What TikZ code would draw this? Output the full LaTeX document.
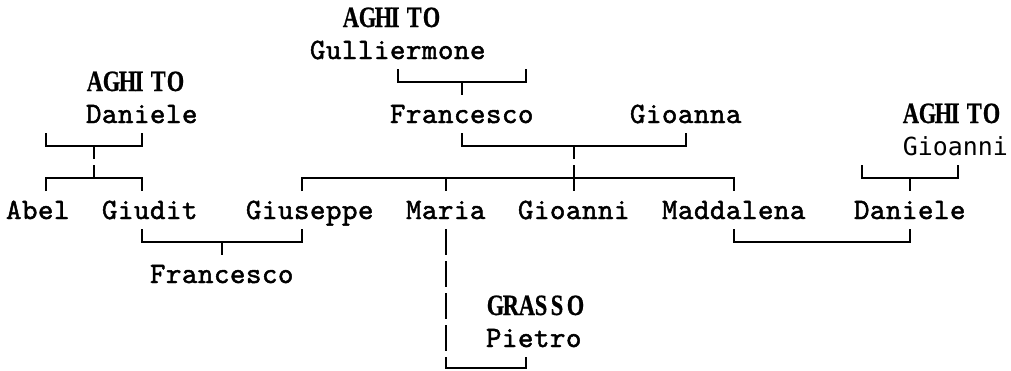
\documentclass[tikz,border=0pt]{standalone}
\usepackage{fontspec}
\newfontfamily\namefont{lmmono10-regular}[Extension=.otf,FakeBold=1.6]
\newfontfamily\surfont[FakeStretch=0.76,FakeBold=0.6]{Liberation Serif}
\newfontfamily\treesans{DejaVu Sans Mono}
\def\cells#1{\cellsloop#1\relax}
\def\cellsloop#1{\ifx\relax#1\else\makebox[16pt][l]{#1}\expandafter\cellsloop\fi}
\begin{document}
\begin{tikzpicture}[x=1pt,y=-1pt]
\useasboundingbox (0,0) rectangle (1011,370);
\begin{scope}[shift={(14,27)},x=16pt,y=-32pt,
  lbl/.style={anchor=base west,inner sep=0pt,outer sep=0pt,font=\namefont\fontsize{29.5}{32}\selectfont},
  sur/.style={anchor=base west,inner sep=0pt,outer sep=0pt,font=\surfont\bfseries\fontsize{29.5}{32}\selectfont},
  san/.style={anchor=base west,inner sep=0pt,outer sep=0pt,font=\treesans\fontsize{24.9}{32}\selectfont},
  ln/.style={line width=1.4pt,line cap=butt}]
% ---- texts ----
\node[sur] (surG) at (20.55,0) {\cells{AGHITO}};
\node[lbl] (gull) at (18.5,1) {\cells{Gulliermone}};
\node[sur] (surD) at (4.55,2) {\cells{AGHITO}};
\node[lbl] (dan1) at (4.5,3) {\cells{Daniele}};
\node[lbl] (fra1) at (23.5,3) {\cells{Francesco}};
\node[lbl] (gioa) at (38.5,3) {\cells{Gioanna}};
\node[sur] (surJ) at (55.55,3) {\cells{AGHITO}};
\node[san] (gio1) at (55.55,4) {Gioanni};
\node[lbl] (abel) at (-0.5,6) {\cells{Abel}};
\node[lbl] (giud) at (5.5,6) {\cells{Giudit}};
\node[lbl] (gius) at (14.5,6) {\cells{Giuseppe}};
\node[lbl] (mari) at (24.5,6) {\cells{Maria}};
\node[lbl] (gio2) at (31.5,6) {\cells{Gioanni}};
\node[lbl] (madd) at (40.5,6) {\cells{Maddalena}};
\node[lbl] (dan2) at (52.5,6) {\cells{Daniele}};
\node[lbl] (fra2) at (8.5,8) {\cells{Francesco}};
\node[sur] (gras) at (29.55,9) {\cells{GRASSO}};
\node[lbl] (piet) at (29.5,10) {\cells{Pietro}};
% ---- connectors (box drawing grid) ----
% row 2: Gulliermone -> Francesco
\draw[ln] (24,1.3125) -- (24,1.71875) -- (32,1.71875) -- (32,1.3125);
\draw[ln] (28,1.71875) -- (28,2.125);
% row 4: Daniele -> children
\draw[ln] (2,3.3125) -- (2,3.71875) -- (8,3.71875) -- (8,3.3125);
\draw[ln] (5,3.71875) -- (5,4.125);
% row 4: Francesco + Gioanna
\draw[ln] (28,3.3125) -- (28,3.71875) -- (42,3.71875) -- (42,3.3125);
\draw[ln] (35,3.71875) -- (35,4.125);
% row 5: Abel / Giudit
\draw[ln] (2,5.125) -- (2,4.71875) -- (8,4.71875) -- (8,5.125);
\draw[ln] (5,4.3125) -- (5,4.71875);
% row 5: children of Francesco and Gioanna
\draw[ln] (18,5.125) -- (18,4.71875) -- (45,4.71875) -- (45,5.125);
\draw[ln] (27,4.71875) -- (27,5.125);
\draw[ln] (35,4.3125) -- (35,5.125);
% row 5: AGHITO Gioanni -> Daniele
\draw[ln] (53,4.3125) -- (53,4.71875) -- (59,4.71875) -- (59,4.3125);
\draw[ln] (56,4.71875) -- (56,5.125);
% row 7: Giudit + Giuseppe -> Francesco
\draw[ln] (8,6.3125) -- (8,6.71875) -- (18,6.71875) -- (18,6.3125);
\draw[ln] (13,6.71875) -- (13,7.125);
% row 7: Maddalena + Daniele
\draw[ln] (45,6.3125) -- (45,6.71875) -- (56,6.71875) -- (56,6.3125);
% Maria + Pietro
\foreach \r in {7,8,9,10} \draw[ln] (27,\r-0.6875) -- (27,\r+0.125);
\draw[ln] (27,10.3125) -- (27,10.65) -- (32,10.65) -- (32,10.3125);
\end{scope}
\end{tikzpicture}
\end{document}
